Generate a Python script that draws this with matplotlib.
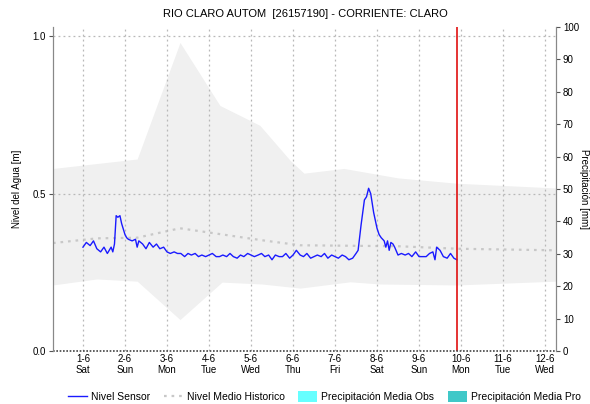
import matplotlib
matplotlib.use("Agg")
import matplotlib.pyplot as plt
from matplotlib.lines import Line2D
from matplotlib.patches import Patch
import numpy as np

plt.rcParams['font.family'] = ['Liberation Sans', 'DejaVu Sans']

# Day offsets are measured from 1-6 00:00
tick_labels = ["1-6\nSat", "2-6\nSun", "3-6\nMon", "4-6\nTue", "5-6\nWed", "6-6\nThu",
               "7-6\nFri", "8-6\nSat", "9-6\nSun", "10-6\nMon", "11-6\nTue", "12-6\nWed"]

# Historical envelope (max / min) and historical mean level [m]
band_up_days = [-0.714, 1.29, 2.31, 3.26, 4.21, 4.93, 5.26, 6.21, 7.5, 8.9, 11.26]
band_up_vals = [0.58, 0.61, 0.98, 0.78, 0.717, 0.606, 0.565, 0.58, 0.55, 0.533, 0.518]
band_lo_days = [-0.714, 0.33, 1.29, 2.31, 3.31, 4.26, 5.17, 6.36, 7.07, 8.9, 11.26]
band_lo_vals = [0.21, 0.229, 0.222, 0.10, 0.219, 0.213, 0.20, 0.22, 0.213, 0.21, 0.222]
hist_days = [-0.714, 0.33, 1.29, 2.31, 4.26, 5.17, 7.5, 8.9, 11.26]
hist_vals = [0.343, 0.358, 0.36, 0.39, 0.352, 0.336, 0.333, 0.325, 0.32]

# Sensor level [m]
sensor_days = [0.00, 0.08, 0.17, 0.25, 0.33, 0.42, 0.50, 0.58, 0.67, 0.71,
               0.75, 0.79, 0.83, 0.88, 0.92, 1.00, 1.04, 1.08, 1.17, 1.25,
               1.29, 1.33, 1.42, 1.50, 1.58, 1.67, 1.75, 1.83, 1.92, 2.00,
               2.08, 2.17, 2.25, 2.33, 2.42, 2.50, 2.58, 2.67, 2.75, 2.83,
               2.92, 3.00, 3.08, 3.17, 3.25, 3.33, 3.42, 3.50, 3.58, 3.67,
               3.75, 3.83, 3.92, 4.00, 4.08, 4.17, 4.25, 4.33, 4.42, 4.50,
               4.58, 4.67, 4.75, 4.83, 4.92, 5.00, 5.08, 5.17, 5.25, 5.33,
               5.42, 5.50, 5.58, 5.67, 5.75, 5.83, 5.92, 6.00, 6.08, 6.17,
               6.25, 6.33, 6.42, 6.50, 6.55, 6.62, 6.70, 6.75, 6.80, 6.85,
               6.92, 7.00, 7.05, 7.10, 7.17, 7.21, 7.25, 7.29, 7.33, 7.38,
               7.42, 7.50, 7.58, 7.67, 7.75, 7.83, 7.92, 8.00, 8.08, 8.17,
               8.25, 8.33, 8.38, 8.42, 8.50, 8.58, 8.67, 8.75, 8.83, 8.90]
sensor_vals = [0.33, 0.345, 0.335, 0.35, 0.325, 0.315, 0.33, 0.31, 0.33, 0.315,
               0.34, 0.43, 0.425, 0.43, 0.405, 0.37, 0.36, 0.355, 0.35, 0.355,
               0.33, 0.35, 0.34, 0.325, 0.345, 0.33, 0.34, 0.325, 0.33, 0.315,
               0.31, 0.315, 0.31, 0.31, 0.30, 0.31, 0.305, 0.31, 0.30, 0.305,
               0.30, 0.305, 0.31, 0.30, 0.30, 0.305, 0.30, 0.31, 0.30, 0.295,
               0.305, 0.30, 0.31, 0.305, 0.30, 0.305, 0.31, 0.30, 0.305, 0.29,
               0.305, 0.30, 0.30, 0.31, 0.295, 0.305, 0.32, 0.305, 0.30, 0.31,
               0.295, 0.30, 0.305, 0.30, 0.31, 0.295, 0.305, 0.30, 0.295, 0.305,
               0.30, 0.29, 0.295, 0.31, 0.32, 0.40, 0.48, 0.49, 0.517, 0.50,
               0.44, 0.39, 0.37, 0.36, 0.35, 0.33, 0.35, 0.32, 0.345, 0.34,
               0.33, 0.305, 0.31, 0.305, 0.31, 0.30, 0.315, 0.30, 0.30, 0.30,
               0.31, 0.315, 0.29, 0.33, 0.32, 0.30, 0.295, 0.31, 0.295, 0.29]

now_day = 8.905

fig = plt.figure(figsize=(5.9, 4.04), dpi=100)
ax = fig.add_axes([0.0898, 0.131, 0.8525, 0.802])
ax2 = ax.twinx()

# envelope filled between the upper and lower curves
x_all = np.union1d(band_up_days, band_lo_days)
ax.fill_between(x_all, np.interp(x_all, band_lo_days, band_lo_vals),
                np.interp(x_all, band_up_days, band_up_vals),
                color='#f0f0f0', lw=0, zorder=1)
ax.plot(hist_days, hist_vals, color='#c8c8c8', lw=1.6, ls=(0, (1.2, 2.2)), zorder=2)
ax.plot(sensor_days, sensor_vals, color='#1a1aff', lw=1.0, zorder=4)
ax.axvline(now_day, color='#e01010', lw=1.2, zorder=5)

ax.set_xlim(-0.714, 11.26)
ax.set_ylim(0, 1.029)
ax2.set_ylim(0, 100)

ax.set_xticks(range(len(tick_labels)))
ax.set_xticklabels(tick_labels, fontsize=7, linespacing=1.1)
ax.set_yticks([0.0, 0.5, 1.0])
ax.set_yticklabels(["0.0", "0.5", "1.0"], fontsize=7)
ax2.set_yticks(range(0, 101, 10))
ax2.set_yticklabels([str(v) for v in range(0, 101, 10)], fontsize=7)

for d in range(len(tick_labels)):
    ax.axvline(d, color='#b8b8b8', lw=0.9, ls=(0, (1.5, 2.5)), zorder=3)
for v in (0.5, 1.0):
    ax.axhline(v, color='#b8b8b8', lw=0.9, ls=(0, (1.5, 2.5)), zorder=3)
ax.axhline(0.0, color='#444444', lw=1.2, ls=(0, (1, 1)), zorder=6, clip_on=False)

for a in (ax, ax2):
    a.spines['top'].set_visible(False)
    a.spines['bottom'].set_visible(False)
    a.spines['left'].set_color('#888888')
    a.spines['right'].set_color('#888888')
    a.tick_params(length=3, width=0.8, color='#555555', pad=2)
ax.tick_params(axis='x', length=0)
ax.set_facecolor('white')

ax.set_ylabel("Nivel del Agua [m]", fontsize=7, labelpad=8)
ax2.set_ylabel("Precipitación [mm]", fontsize=7, rotation=270, va='center')
ax2.yaxis.set_label_coords(1.055, 0.5)

fig.text(0.517, 0.965, "RIO CLARO AUTOM  [26157190] - CORRIENTE: CLARO",
         ha='center', va='center', fontsize=8)

handles = [Line2D([], [], color='#1a1aff', lw=1.0),
           Line2D([], [], color='#c8c8c8', lw=1.6, ls=(0, (1.2, 2.2))),
           Patch(facecolor='#66ffff', edgecolor='none'),
           Patch(facecolor='#40c8c8', edgecolor='none')]
labels = ["Nivel Sensor", "Nivel Medio Historico",
          "Precipitación Media Obs", "Precipitación Media Pro"]
fig.legend(handles, labels, loc='center', bbox_to_anchor=(0.55, 0.018), ncol=4,
           frameon=False, fontsize=7.5, handlelength=1.8, handleheight=1.2,
           handletextpad=0.4, columnspacing=1.3)

fig.savefig("out.png", dpi=100, facecolor='white')
